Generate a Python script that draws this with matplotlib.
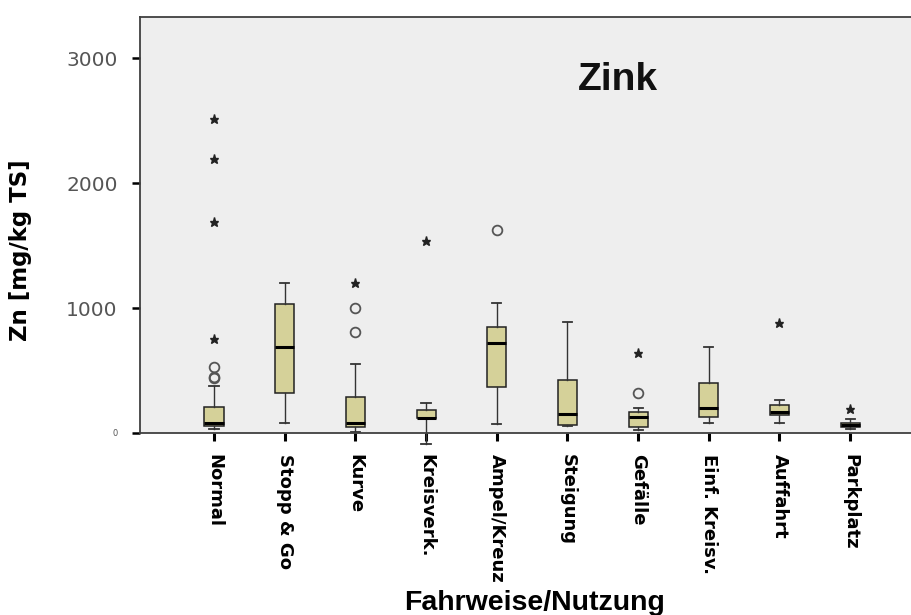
import numpy as np
import matplotlib
matplotlib.use("Agg")
from matplotlib import pyplot as plt

# Zn-Gehalte je Fahrweise/Nutzung (mg/kg TS)
categories = ['Normal', 'Stopp & Go', 'Kurve', 'Kreisverk.', 'Ampel/Kreuz',
              'Steigung', 'Gefälle', 'Einf. Kreisv.', 'Auffahrt', 'Parkplatz']
whislo = [30, 77, 5, -85, 69, 60, 24, 77, 83, 29]
q1 = [55, 323, 51, 117, 365, 64, 51, 131, 144, 45]
med = [80, 691, 84, 122, 723, 149, 125, 197, 171, 64]
q3 = [205, 1029, 291, 185, 851, 424, 165, 397, 224, 83]
whishi = [376, 1203, 552, 243, 1037, 891, 197, 685, 264, 109]

# Ausreisser (o) und Extremwerte (*)
out_cat = [0, 0, 0, 2, 2, 4, 6]
out_val = [525, 450, 437, 997, 805, 1624, 317]
ext_cat = [0, 0, 0, 0, 2, 3, 6, 8, 9]
ext_val = [752, 1690, 2190, 2510, 1197, 1536, 637, 877, 189]

box_color = '#D5D199'
frame_color = '#404040'

plt.rcParams['font.family'] = ['DejaVu Sans']

fig = plt.figure(figsize=(9.12, 6.15), dpi=100)
ax = fig.add_axes([140/912, 1-433/615, 778/912, 416/615])
ax.set_facecolor('#EEEEEE')

stats = []
for i in range(len(categories)):
    stats.append(dict(whislo=whislo[i], q1=q1[i], med=med[i], q3=q3[i],
                      whishi=whishi[i], label=categories[i]))

pos = np.arange(len(categories))
bp = ax.bxp(stats, positions=pos, widths=0.27, patch_artist=True,
            showfliers=False, manage_ticks=False,
            boxprops=dict(facecolor=box_color, edgecolor='#222222', linewidth=1.1),
            medianprops=dict(color='black', linewidth=2.2),
            whiskerprops=dict(color='#333333', linewidth=1.0),
            capprops=dict(color='#333333', linewidth=1.3),
            capwidths=0.13)
for art in bp['whiskers'] + bp['caps']:
    art.set_clip_on(False)

ax.plot(out_cat, out_val, 'o', ms=7, mfc='none', mec='#555555', mew=1.3)
ax.plot(ext_cat, ext_val, '*', ms=6.5, color='#222222')

ax.set_xlim(-1.047, 9.96)
ax.set_ylim(0, 3330)

ax.set_xticks(pos)
ax.set_xticklabels(categories, rotation=-90, fontsize=13, fontweight='bold',
                   va='top', ha='center')
ax.tick_params(axis='x', length=6, width=2.2, color='black', pad=9)

ax.set_yticks([0, 1000, 2000, 3000])
ax.set_yticklabels(['0', '1000', '2000', '3000'], fontsize=14.5, color='#555555')
ax.get_yticklabels()[0].set_fontsize(6)
ax.tick_params(axis='y', length=6, width=1.8, color='black', pad=10)

for side in ['left', 'bottom', 'top']:
    ax.spines[side].set_color(frame_color)
    ax.spines[side].set_linewidth(1.3)
ax.spines['right'].set_visible(False)

fig.text(618/912, 1-80/615, 'Zink', fontsize=28, fontweight='bold',
         ha='center', va='center', family='Liberation Sans', color='#111111')
fig.text(21/912, 1-250/615, 'Zn [mg/kg TS]', rotation=90, fontsize=16.5,
         fontweight='bold', ha='center', va='center')
fig.text(535/912, 1-590/615, 'Fahrweise/Nutzung', fontsize=20.5,
         fontweight='bold', ha='center', va='top', family='Liberation Sans')

fig.savefig('out.png', dpi=100, facecolor='white')
